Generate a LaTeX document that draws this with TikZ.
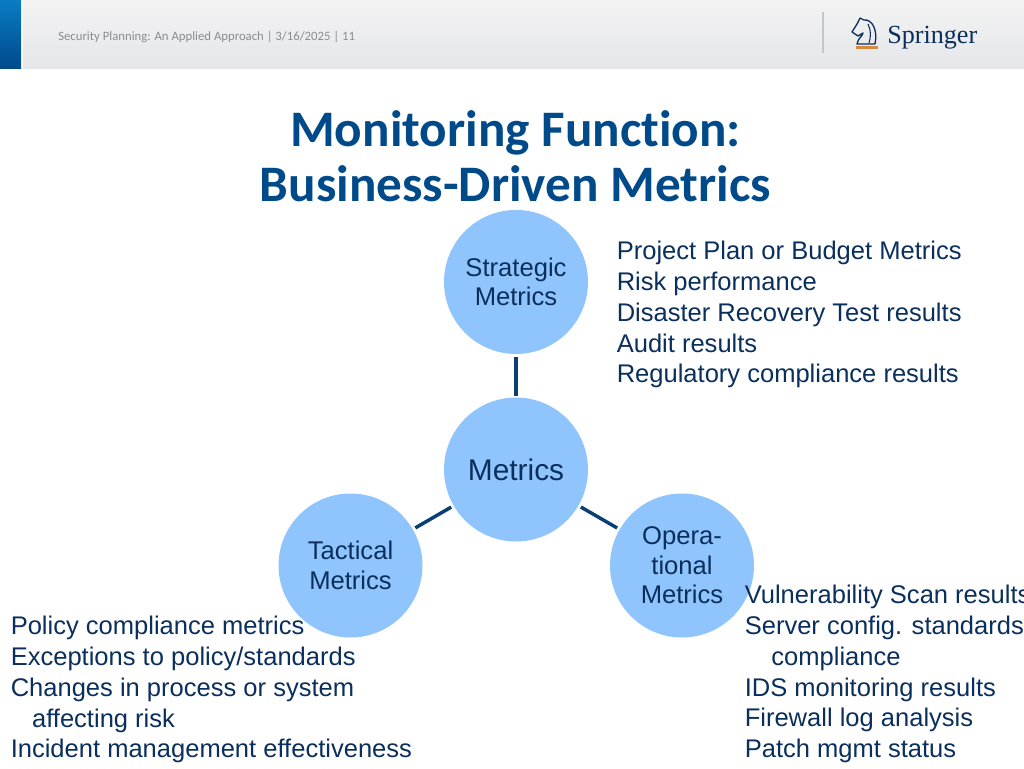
\documentclass[tikz,border=0pt]{standalone}
\usepackage{fontspec}
\setmainfont{Liberation Sans}
\newfontfamily\titlefont[Ligatures=NoCommon]{Carlito}
\newfontfamily\logofont{Liberation Serif}
\usetikzlibrary{positioning}
\definecolor{navy}{HTML}{0A2F5C}
\definecolor{linkblue}{HTML}{0B3F73}
\definecolor{titleblue}{HTML}{004A8A}
\definecolor{circleblue}{HTML}{90C4FD}
\definecolor{footgray}{HTML}{8A8C8E}
\definecolor{bandtop}{HTML}{F3F3F4}
\definecolor{bandbottom}{HTML}{E5E6E8}
\definecolor{blocktop}{HTML}{0A7CC4}
\definecolor{logoorange}{HTML}{D98A3C}
\tikzset{
  metric/.style={circle, fill=circleblue, minimum size=108pt, inner sep=0pt, text=navy, align=center, font=\fontsize{19.2}{22}\selectfont},
  items/.style={anchor=north west, inner sep=0pt, text=navy, align=left, font=\fontsize{19.15}{23.1}\selectfont},
  link/.style={draw=linkblue, line width=2.6pt}
}
\begin{document}
\begin{tikzpicture}[x=0.75pt, y=-0.75pt]
  \useasboundingbox (0,0) rectangle (1024,768);

  % Header band
  \shade[top color=bandtop, bottom color=bandbottom] (23,0) rectangle (1024,68.5);
  \shade[top color=blocktop, bottom color=titleblue] (0,0) rectangle (21,68.5);
  \draw[footgray!50, line width=0.8pt] (823,12) -- (823,53);
  \node[anchor=west, inner sep=0pt, text=footgray, font=\titlefont\fontsize{9.55}{11}\selectfont] (foot) at (58,36.5) {Security Planning: An Applied Approach | 3/16/2025 | 11};

  % Logo
  \draw[navy, line width=1pt, line join=round] (857,44) .. controls (858,38) and (862,37) .. (863,33) -- (858,36) -- (852,32) -- (857,24) -- (860,18) -- (864,20) .. controls (872,19) and (878,30) .. (875,44) -- cycle;
  \draw[navy, line width=0.8pt] (868,24) .. controls (871,30) and (871,37) .. (869,43);
  \fill[logoorange] (856,46) rectangle (878,49);
  \node[anchor=base west, inner sep=0pt, text=navy, font=\logofont\fontsize{19.6}{22}\selectfont] (logo) at (887,43) {Springer};

  % Title
  \node[inner sep=0pt, text=titleblue, align=center, font=\titlefont\bfseries\fontsize{38.4}{41}\selectfont] (title) at (515.5,156) {Monitoring Function:\\Business-Driven Metrics};

  % Define nodes
  \node[metric, font=\fontsize{22.4}{26}\selectfont] (metrics) at (516,469.5) {Metrics};
  \node[metric, above=32.25pt of metrics]    (strategic) {Strategic\\Metrics};
  \node[metric] (tactical) at (350.5,565.5)  {Tactical\\Metrics};
  \node[metric] (operational) at (682,565.5) {Opera-\\tional\\Metrics};

  % Connect the nodes
  \draw[link, shorten <=2pt, shorten >=1pt] (strategic) -- (metrics);
  \draw[link, shorten <=2pt, shorten >=2pt] (metrics) -- (tactical);
  \draw[link, shorten <=2pt, shorten >=2pt] (metrics) -- (operational);

  % Lists
  \node[items] (plans) at (616.5,241) {Project Plan or Budget Metrics\\Risk performance\\Disaster Recovery Test results\\Audit results\\Regulatory compliance results};
  \node[items] (policy) at (10.5,616) {Policy compliance metrics\\Exceptions to policy/standards\\Changes in process or system\\\hspace*{16pt}affecting risk\\Incident management effectiveness};
  \node[items] (scans) at (744.5,585) {Vulnerability Scan results\\Server config. standards\\\hspace*{20pt}compliance\\IDS monitoring results\\Firewall log analysis\\Patch mgmt status};
\end{tikzpicture}
\end{document}
